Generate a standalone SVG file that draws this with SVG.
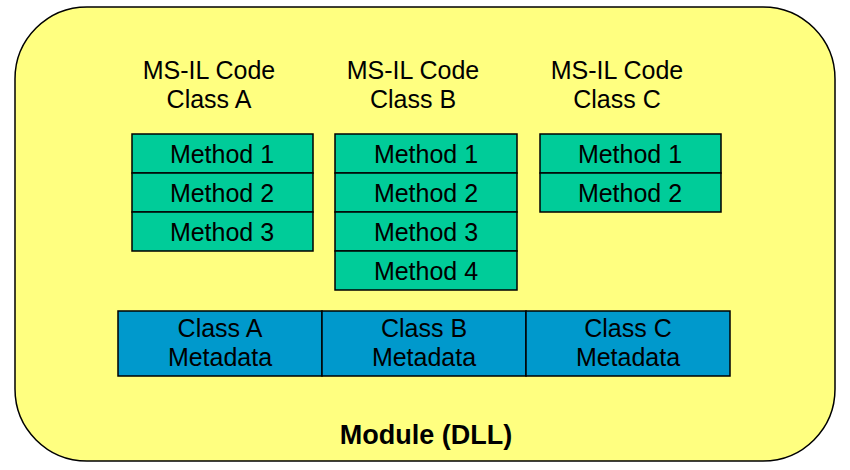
<svg xmlns="http://www.w3.org/2000/svg" width="850" height="470" viewBox="0 0 850 470">
<style>
text{font-family:"Liberation Sans",Arial,sans-serif;font-size:25px;fill:#000;text-anchor:middle}
.m{fill:#00cc99;stroke:#000;stroke-width:1.5}
.d{fill:#0099cc;stroke:#000;stroke-width:1.5}
.b{font-weight:bold;font-size:27px}
</style>
<rect width="850" height="470" fill="#fff"/>
<g id="module">
<rect x="15" y="7" width="820" height="454" rx="72" ry="72" fill="#ffff80" stroke="#000" stroke-width="1.5"/>
<text class="b" x="426" y="444">Module (DLL)</text>
</g>
<g id="classA">
<text x="209" y="79">MS-IL Code</text><text x="209" y="108">Class A</text>
<rect class="m" x="132" y="134" width="181" height="39"/><text x="222" y="163">Method 1</text>
<rect class="m" x="132" y="173" width="181" height="39"/><text x="222" y="202">Method 2</text>
<rect class="m" x="132" y="212" width="181" height="39"/><text x="222" y="241">Method 3</text>
</g>
<g id="classB">
<text x="413" y="79">MS-IL Code</text><text x="413" y="108">Class B</text>
<rect class="m" x="335" y="134" width="182" height="39"/><text x="426" y="163">Method 1</text>
<rect class="m" x="335" y="173" width="182" height="39"/><text x="426" y="202">Method 2</text>
<rect class="m" x="335" y="212" width="182" height="39"/><text x="426" y="241">Method 3</text>
<rect class="m" x="335" y="251" width="182" height="39"/><text x="426" y="280">Method 4</text>
</g>
<g id="classC">
<text x="617" y="79">MS-IL Code</text><text x="617" y="108">Class C</text>
<rect class="m" x="540" y="134" width="181" height="39"/><text x="630" y="163">Method 1</text>
<rect class="m" x="540" y="173" width="181" height="39"/><text x="630" y="202">Method 2</text>
</g>
<g id="metadata">
<rect class="d" x="118" y="311" width="204" height="65"/><text x="220" y="337">Class A</text><text x="220" y="366">Metadata</text>
<rect class="d" x="322" y="311" width="204" height="65"/><text x="424" y="337">Class B</text><text x="424" y="366">Metadata</text>
<rect class="d" x="526" y="311" width="204" height="65"/><text x="628" y="337">Class C</text><text x="628" y="366">Metadata</text>
</g>
<g id="connectors"/>
</svg>
